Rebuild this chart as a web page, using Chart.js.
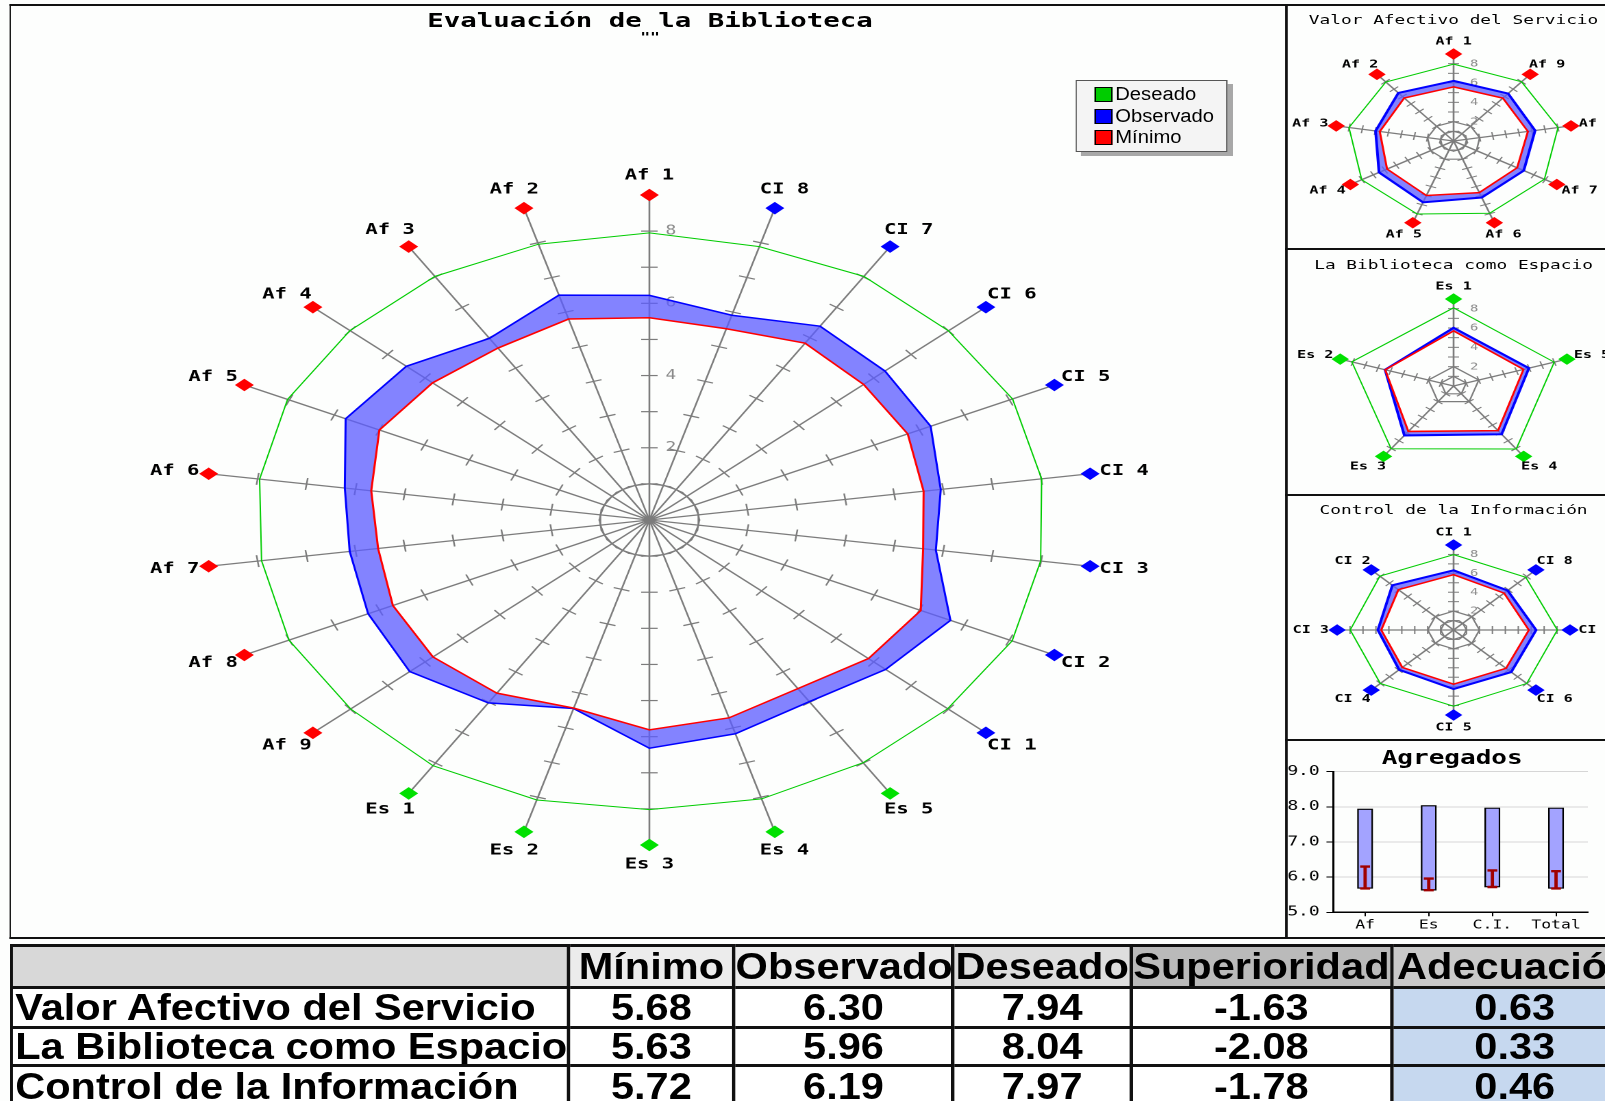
<!DOCTYPE html>
<html><head><meta charset="utf-8">
<script src="https://cdn.jsdelivr.net/npm/chart.js@4.4.1/dist/chart.umd.min.js"></script>
<style>
html,body{margin:0;padding:0;width:1605px;height:1101px;overflow:hidden;background:#fdfefd;}
#root{position:absolute;left:0;top:0;width:1172px;height:1101px;transform:scaleX(1.37);transform-origin:0 0;}
canvas{position:absolute;}
.ln{position:absolute;background:#111;z-index:5;}
.ttl{position:absolute;text-align:center;font-family:'DejaVu Sans Mono',monospace;color:#000;white-space:nowrap;}
#legend{position:absolute;left:785px;top:80px;width:109px;height:70px;border:1px solid #555;background:#f4f4f4;box-shadow:4px 4px 0 #a8a8a8;}
#legend .sw{position:absolute;left:13px;width:11px;height:13px;border:1px solid #000;}
#legend .tx{position:absolute;left:28px;font-family:'Liberation Sans',Arial,sans-serif;font-size:18px;line-height:20px;color:#000;transform:scaleX(0.82);transform-origin:0 0;white-space:nowrap;}
#tblWrap{position:absolute;left:7px;top:944px;width:2000px;transform:scaleX(0.82);transform-origin:0 0;}
#tbl{border-collapse:collapse;table-layout:fixed;font-family:'Liberation Sans',Arial,sans-serif;font-weight:bold;font-size:37px;color:#000;}
#tbl td,#tbl th{border:3px solid #111;padding:0;line-height:32px;white-space:nowrap;overflow:hidden;text-align:center;font-weight:bold;}
#tbl td.rl{text-align:left;padding-left:2px;}
</style></head>
<body><div id="root">
<canvas id="cMain" width="930" height="931" style="left:8px;top:6px"></canvas>
<canvas id="cAf" width="242" height="241" style="left:940px;top:7px"></canvas>
<canvas id="cEs" width="242" height="243" style="left:940px;top:251px"></canvas>
<canvas id="cCI" width="242" height="242" style="left:940px;top:497px"></canvas>
<canvas id="cAgg" width="234" height="196" style="left:938px;top:741px"></canvas>

<div class="ttl" style="left:0;width:949px;top:8px;font-size:20px;line-height:24px;font-weight:bold;">Evaluación de la Biblioteca</div>
<div class="ttl" style="left:0;width:949px;top:30px;font-size:12px;line-height:14px;font-weight:bold;">""</div>
<div class="ttl" style="left:940px;width:242px;top:12px;font-size:13px;line-height:16px;">Valor Afectivo del Servicio</div>
<div class="ttl" style="left:940px;width:242px;top:257px;font-size:13px;line-height:16px;">La Biblioteca como Espacio</div>
<div class="ttl" style="left:940px;width:242px;top:502px;font-size:13px;line-height:16px;">Control de la Información</div>
<div class="ttl" style="left:940px;width:240px;top:746px;font-size:19px;line-height:22px;font-weight:bold;">Agregados</div>

<div id="legend"></div>
<div id="tblWrap"><table id="tbl"></table></div>

<div class="ln" style="left:7px;top:4px;width:1165px;height:2px"></div>
<div class="ln" style="left:6.5px;top:4px;width:1.5px;height:935px"></div>
<div class="ln" style="left:938px;top:4px;width:1.6px;height:935px"></div>
<div class="ln" style="left:938px;top:247.5px;width:234px;height:2.5px"></div>
<div class="ln" style="left:938px;top:493.5px;width:234px;height:2.5px"></div>
<div class="ln" style="left:938px;top:738.5px;width:234px;height:2.5px"></div>
<div class="ln" style="left:6.5px;top:937px;width:1166px;height:2px"></div>
</div>
<script>
const MONO = "'DejaVu Sans Mono', monospace";

// ---------- data ----------
const afLabels = ['Af 1','Af 2','Af 3','Af 4','Af 5','Af 6','Af 7','Af 8','Af 9'];
const esLabels = ['Es 1','Es 2','Es 3','Es 4','Es 5'];
const ciLabels = ['CI 1','CI 2','CI 3','CI 4','CI 5','CI 6','CI 7','CI 8'];

const afDeseado   = [7.95, 7.96, 8.02, 8.01, 8.04, 7.96, 7.92, 8.01, 7.99];
const afObservado = [6.22, 6.49, 5.98, 6.50, 6.75, 6.22, 6.12, 6.25, 6.41];
const afMinimo    = [5.60, 5.80, 5.66, 5.80, 6.00, 5.68, 5.54, 5.70, 5.79];

const esDeseado   = [8.09, 8.08, 8.02, 8.05, 7.99];
const esObservado = [6.02, 5.44, 6.32, 6.17, 5.98];
const esMinimo    = [5.70, 5.43, 5.81, 5.71, 5.55];

const ciDeseado   = [7.98, 8.06, 7.99, 8.01, 8.07, 8.00, 8.02, 7.89];
const ciObservado = [6.32, 6.69, 5.85, 5.95, 6.25, 6.30, 6.38, 5.91];
const ciMinimo    = [5.86, 6.03, 5.59, 5.60, 5.74, 5.73, 5.82, 5.52];

const seriesNames  = ['Deseado', 'Observado', 'Mínimo'];
const seriesColors = ['#00cc00', '#0000ff', '#ff0000'];
const groupColors  = {Af: '#ff0000', Es: '#00e000', CI: '#0000ff'};
const radarTickLabels = [2, 4, 6, 8];
const radarTickMarks  = [1, 2, 3, 4, 5, 6, 7, 8];

const aggCategories = ['Af', 'Es', 'C.I.', 'Total'];
const aggMinimo     = [5.68, 5.63, 5.72, 5.68];
const aggObservado  = [6.30, 5.96, 6.19, 6.17];
const aggDeseado    = [7.94, 8.04, 7.97, 7.97];

const tableColumns      = ['Mínimo', 'Observado', 'Deseado', 'Superioridad', 'Adecuación'];
const tableRows         = ['Valor Afectivo del Servicio', 'La Biblioteca como Espacio', 'Control de la Información'];
const tableMinimo       = [5.68, 5.63, 5.72];
const tableObservado    = [6.30, 5.96, 6.19];
const tableDeseado      = [7.94, 8.04, 7.97];
const tableSuperioridad = [-1.63, -2.08, -1.78];
const tableAdecuacion   = [0.63, 0.33, 0.46];

// ---------- helpers ----------
// Chart.js walks clockwise; the reference places axes counter-clockwise.
function clockwise(arr) { return [arr[0], ...arr.slice(1).reverse()]; }

const radarDecor = {
  id: 'radarDecor',
  beforeDatasetsDraw(chart, args, o) {
    const s = chart.scales.r, ctx = chart.ctx, n = chart.data.labels.length;
    ctx.save();
    ctx.strokeStyle = o.tickColor; ctx.lineWidth = o.tickWidth;
    for (let i = 0; i < n; i++) {
      const a = s.getIndexAngle(i), c = Math.cos(a), sn = Math.sin(a);
      radarTickMarks.forEach(v => {
        const p = s.getPointPositionForValue(i, v);
        ctx.beginPath();
        ctx.moveTo(p.x - c * o.tickHalf, p.y - sn * o.tickHalf);
        ctx.lineTo(p.x + c * o.tickHalf, p.y + sn * o.tickHalf);
        ctx.stroke();
      });
    }
    ctx.restore();
  },
  afterDatasetsDraw(chart, args, o) {
    const s = chart.scales.r, ctx = chart.ctx, labels = chart.data.labels;
    ctx.save();
    ctx.font = o.labelFont; ctx.textAlign = 'center'; ctx.textBaseline = 'middle';
    labels.forEach((lab, i) => {
      const a = s.getIndexAngle(i), c = Math.cos(a), sn = Math.sin(a);
      const p = s.getPointPosition(i, s.drawingArea);
      const r = o.markerRadius;
      ctx.fillStyle = o.markerColors[i];
      ctx.beginPath();
      ctx.moveTo(p.x, p.y - r); ctx.lineTo(p.x + r * 1.1, p.y);
      ctx.lineTo(p.x, p.y + r); ctx.lineTo(p.x - r * 1.1, p.y);
      ctx.closePath(); ctx.fill();
      const w = ctx.measureText(lab).width, h = o.labelSize;
      ctx.fillStyle = '#000';
      ctx.fillText(lab, p.x + sn * (o.padX + w / 2), p.y - c * (o.padY + h / 2));
    });
    ctx.restore();
  }
};

function radarChart(id, labels, des, obs, min, markerColors, g) {
  return new Chart(document.getElementById(id), {
    type: 'radar',
    data: {
      labels: labels,
      datasets: [
        {label: seriesNames[0], data: des, borderColor: seriesColors[0], borderWidth: g.wDes, fill: false, order: 0},
        {label: seriesNames[1], data: obs, borderColor: seriesColors[1], borderWidth: g.wObs,
         backgroundColor: 'rgba(92,92,255,0.76)', fill: '+1', order: 2},
        {label: seriesNames[2], data: min, borderColor: seriesColors[2], borderWidth: g.wMin, fill: false, order: 1}
      ]
    },
    plugins: [radarDecor],
    options: {
      responsive: false, devicePixelRatio: 2, animation: false, events: [],
      layout: {padding: g.padding},
      elements: {line: {tension: 0}, point: {radius: 0, hoverRadius: 0}},
      plugins: {
        legend: {display: false}, title: {display: false}, tooltip: {enabled: false},
        radarDecor: {
          tickColor: '#7c7c7c', tickWidth: g.tickWidth, tickHalf: g.tickHalf,
          labelFont: 'bold ' + g.labelSize + 'px ' + MONO, labelSize: g.labelSize,
          padX: g.padX, padY: g.padY, markerRadius: g.markerRadius, markerColors: markerColors
        }
      },
      scales: {
        r: {
          min: 0, max: 9, startAngle: 0,
          ticks: {
            stepSize: 1, display: true, showLabelBackdrop: false, backdropPadding: 0,
            color: '#8a8a8a', font: {family: MONO, size: g.tickSize},
            callback: v => radarTickLabels.includes(v) ? ' '.repeat(g.tickSpaces) + v : ''
          },
          grid: {circular: false, color: '#7c7c7c', lineWidth: c => g.rings.includes(c.tick.value) ? 1.2 : 0},
          angleLines: {display: true, color: '#7c7c7c', lineWidth: g.spokeWidth},
          pointLabels: {display: false}
        }
      }
    }
  });
}

// ---------- main radar ----------
const allLabels = [...afLabels, ...esLabels, ...ciLabels];
const allColors = [...afLabels.map(() => groupColors.Af), ...esLabels.map(() => groupColors.Es), ...ciLabels.map(() => groupColors.CI)];
radarChart('cMain',
  clockwise(allLabels),
  clockwise([...afDeseado, ...esDeseado, ...ciDeseado]),
  clockwise([...afObservado, ...esObservado, ...ciObservado]),
  clockwise([...afMinimo, ...esMinimo, ...ciMinimo]),
  clockwise(allColors),
  {padding: {left: 135, top: 182.5, right: 132, bottom: 85.5}, tickSize: 13, tickSpaces: 4, rings: [1],
   wDes: 1, wObs: 1.5, wMin: 1.5, tickWidth: 1.2, tickHalf: 6, spokeWidth: 1.3,
   labelSize: 15, padX: 7, padY: 12, markerRadius: 6.3});

// ---------- small radars ----------
const smallG = {tickSize: 10, tickSpaces: 5, rings: [1, 2], wDes: 1, wObs: 2, wMin: 1.5,
  tickWidth: 1, tickHalf: 4, spokeWidth: 1.3, labelSize: 11, padX: 6, padY: 7, markerRadius: 5.8};
radarChart('cAf', clockwise(afLabels), clockwise(afDeseado), clockwise(afObservado), clockwise(afMinimo),
  afLabels.map(() => groupColors.Af),
  Object.assign({}, smallG, {padding: {left: 29.3, top: 42.7, right: 28.7, bottom: 14.3}}));
radarChart('cEs', clockwise(esLabels), clockwise(esDeseado), clockwise(esObservado), clockwise(esMinimo),
  esLabels.map(() => groupColors.Es),
  Object.assign({}, smallG, {padding: {left: 29.3, top: 43.7, right: 28.7, bottom: 15.3}}));
radarChart('cCI', clockwise(ciLabels), clockwise(ciDeseado), clockwise(ciObservado), clockwise(ciMinimo),
  ciLabels.map(() => groupColors.CI),
  Object.assign({}, smallG, {padding: {left: 31.3, top: 43, right: 30.7, bottom: 19}}));

// ---------- aggregates bar chart ----------
const errBars = {
  id: 'errBars',
  afterDatasetsDraw(chart, args, o) {
    const x = chart.scales.x, y = chart.scales.y, ctx = chart.ctx;
    ctx.save(); ctx.strokeStyle = o.color; ctx.lineWidth = o.width;
    o.low.forEach((lo, i) => {
      const px = x.getPixelForValue(i), y1 = y.getPixelForValue(lo), y2 = y.getPixelForValue(o.high[i]);
      ctx.beginPath();
      ctx.moveTo(px, y1); ctx.lineTo(px, y2);
      ctx.moveTo(px - o.cap, y1); ctx.lineTo(px + o.cap, y1);
      ctx.moveTo(px - o.cap, y2); ctx.lineTo(px + o.cap, y2);
      ctx.stroke();
    });
    ctx.restore();
  }
};
new Chart(document.getElementById('cAgg'), {
  type: 'bar',
  data: {
    labels: aggCategories,
    datasets: [{label: 'Mínimo–Deseado', data: aggMinimo.map((m, i) => [m, aggDeseado[i]]),
      backgroundColor: '#a3a3ff', borderColor: '#000', borderWidth: 1.2, borderSkipped: false, barThickness: 11}]
  },
  plugins: [errBars],
  options: {
    responsive: false, devicePixelRatio: 2, animation: false, events: [],
    layout: {padding: {left: 0, right: 13, top: 30.7, bottom: 0}},
    plugins: {legend: {display: false}, tooltip: {enabled: false},
      errBars: {low: aggMinimo, high: aggObservado, color: '#a00000', width: 2.4, cap: 3.6}},
    scales: {
      x: {grid: {drawOnChartArea: false, offset: false, tickColor: '#000', tickLength: 4},
          border: {color: '#000', width: 1.5},
          ticks: {font: {family: MONO, size: 12}, color: '#000', padding: 2, maxRotation: 0},
          afterFit: s => { s.height = 24.7; }},
      y: {min: 5, max: 9,
          ticks: {stepSize: 0.5, font: {family: MONO, size: 13}, color: '#000', padding: 5,
                  callback: v => Number.isInteger(v) ? v.toFixed(1) : ''},
          grid: {color: c => (Number.isInteger(c.tick.value) && c.tick.value > 5) ? '#d6d6d6' : 'rgba(0,0,0,0)',
                 tickColor: '#000', tickLength: 5},
          border: {color: '#000', width: 1.5},
          afterFit: s => { s.width = 35.2; }}
    }
  }
});

// ---------- legend ----------
const legend = document.getElementById('legend');
const legendRowY = [13, 35, 56];
seriesNames.forEach((name, i) => {
  const sw = document.createElement('div');
  sw.className = 'sw'; sw.style.top = (legendRowY[i] - 7) + 'px'; sw.style.background = seriesColors[i];
  legend.appendChild(sw);
  const tx = document.createElement('div');
  tx.className = 'tx'; tx.style.top = (legendRowY[i] - 10) + 'px'; tx.textContent = name;
  legend.appendChild(tx);
});

// ---------- table (condensed bold sans, like Arial Narrow) ----------
const tbl = document.getElementById('tbl');
const narrow = 0.82;
const colWidths = [407, 120.5, 160, 130, 190, 180].map(w => w / narrow);
tbl.style.width = colWidths.reduce((a, b) => a + b, 0) + 'px';
const headBg = ['#d8d8d8', '#ececec', '#ececec', '#dedede', '#bababa', '#c9c9c9'];
const rowHeights = [39, 37, 35, 40];
const cg = document.createElement('colgroup');
colWidths.forEach(w => { const c = document.createElement('col'); c.style.width = w + 'px'; cg.appendChild(c); });
tbl.appendChild(cg);
const hr = document.createElement('tr');
['', ...tableColumns].forEach((t, j) => {
  const th = document.createElement('th'); th.textContent = t; th.style.background = headBg[j];
  th.style.height = rowHeights[0] + 'px';
  hr.appendChild(th);
});
tbl.appendChild(hr);
tableRows.forEach((name, i) => {
  const tr = document.createElement('tr');
  const vals = [tableMinimo[i], tableObservado[i], tableDeseado[i], tableSuperioridad[i], tableAdecuacion[i]];
  const c0 = document.createElement('td'); c0.className = 'rl'; c0.textContent = name; c0.style.background = '#fff';
  c0.style.height = rowHeights[i + 1] + 'px';
  tr.appendChild(c0);
  vals.forEach((v, j) => {
    const td = document.createElement('td'); td.textContent = v.toFixed(2);
    td.style.background = j === 4 ? '#c6d8ef' : '#fff';
    tr.appendChild(td);
  });
  tbl.appendChild(tr);
});
</script>
</body></html>
